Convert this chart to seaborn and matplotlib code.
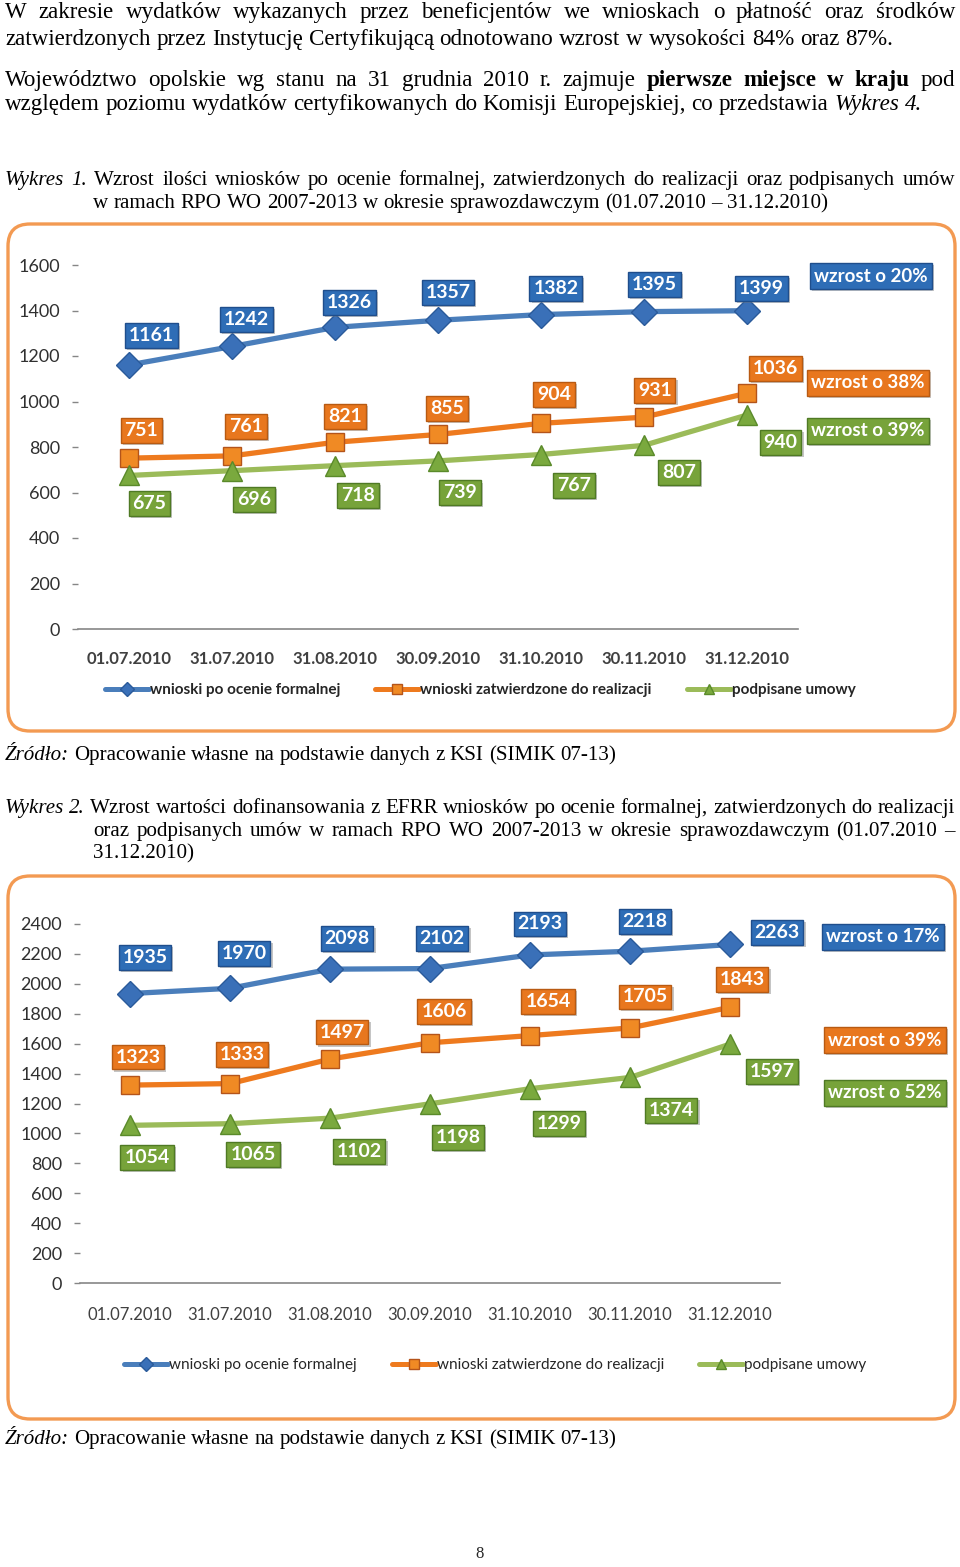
import matplotlib
matplotlib.use("Agg")
import matplotlib.pyplot as plt
import matplotlib.patheffects as pe
from matplotlib.lines import Line2D
from matplotlib.patches import FancyBboxPatch
import seaborn as sns

sns.set_style("white")
plt.rcParams["font.family"] = ["Lato", "DejaVu Sans"]

W, H = 960, 1567

# ---- dane ----
dates = ["01.07.2010", "31.07.2010", "31.08.2010", "30.09.2010",
         "31.10.2010", "30.11.2010", "31.12.2010"]
series_names = ["wnioski po ocenie formalnej",
                "wnioski zatwierdzone do realizacji",
                "podpisane umowy"]

w1_ocena = [1161, 1242, 1326, 1357, 1382, 1395, 1399]
w1_zatw = [751, 761, 821, 855, 904, 931, 1036]
w1_umowy = [675, 696, 718, 739, 767, 807, 940]
w1_wzrost = ["wzrost o 20%", "wzrost o 38%", "wzrost o 39%"]

w2_ocena = [1935, 1970, 2098, 2102, 2193, 2218, 2263]
w2_zatw = [1323, 1333, 1497, 1606, 1654, 1705, 1843]
w2_umowy = [1054, 1065, 1102, 1198, 1299, 1374, 1597]
w2_wzrost = ["wzrost o 17%", "wzrost o 39%", "wzrost o 52%"]

# ---- styl ----
LINE_COLORS = ["#4A7EBB", "#EE7A1E", "#9BBB59"]
MARK_FACE = ["#3A70B8", "#F08A24", "#7AA93E"]
MARK_EDGE = ["#2A5A9A", "#B4541A", "#5A8A2A"]
MARKERS = ["D", "s", "^"]
MSIZE = [13, 13, 14]
BOX_FACE = ["#2E6DB6", "#E8771E", "#77A33A"]
BOX_EDGE = ["#1F4E8C", "#B85A12", "#4F7A24"]
TEXT_DARK = "#404040"
FRAME = "#F39A52"
SERIF = "Liberation Serif"

# przesunięcia etykiet (px, w dół dodatnie)
w1_offsets = [
    [(22, -29), (14, -27), (14, -25), (10, -28), (15, -26), (11, -27), (15, -22)],
    [(12, -28), (14, -29), (10, -26), (9, -26), (13, -29), (11, -27), (29, -25)],
    [(20, 28), (22, 29), (23, 30), (22, 32), (33, 31), (35, 27), (34, 27)],
]
w2_offsets = [
    [(15, -36), (14, -35), (17, -31), (12, -30), (10, -31), (15, -30), (47, -12)],
    [(8, -28), (12, -29), (12, -27), (14, -31), (18, -34), (15, -31), (12, -28)],
    [(17, 32), (23, 31), (29, 33), (28, 34), (29, 35), (41, 33), (42, 27)],
]

fig = plt.figure(figsize=(W / 100, H / 100), dpi=100)
renderer = fig.canvas.get_renderer()


def fx(x):
    return x / W


def fy(y):
    return 1 - y / H


def fit_size(text, width):
    # rozmiar czcionki, przy którym tekst ma zadaną szerokość (w px)
    t = fig.text(0, 0, text, fontsize=10, family=SERIF)
    w = t.get_window_extent(renderer).width
    t.remove()
    return 10 * width / w


def put_line(y, x0, x1, parts, size):
    words = []
    for txt, st in parts:
        for w in txt.split(" "):
            if w:
                words.append((w, st))
    arts = []
    for w, st in words:
        t = fig.text(0, fy(y), w, fontsize=size, family=SERIF,
                     fontweight="bold" if st == "b" else "normal",
                     style="italic" if st == "i" else "normal",
                     va="baseline", ha="left", color="black")
        arts.append(t)
    widths = [a.get_window_extent(renderer).width for a in arts]
    gap = (x1 - x0 - sum(widths)) / max(len(arts) - 1, 1)
    x = x0
    for a, wd in zip(arts, widths):
        a.set_x(fx(x))
        x += wd + gap


def frame(x0, y0, x1, y1):
    box = FancyBboxPatch((x0 / 100, (H - y1) / 100), (x1 - x0) / 100, (y1 - y0) / 100,
                         boxstyle="round,pad=0,rounding_size=0.22",
                         transform=fig.dpi_scale_trans, facecolor="none",
                         edgecolor=FRAME, linewidth=2.4, zorder=-1)
    fig.patches.append(box)


def value_box(ax, x, y, text, i, off):
    ann = ax.annotate(str(text), xy=(x, y), xytext=(off[0] * 0.72, -off[1] * 0.72),
                      textcoords="offset points", ha="center", va="center",
                      fontsize=14, fontweight="bold", color="white",
                      annotation_clip=False, zorder=6,
                      bbox=dict(boxstyle="square,pad=0.2", facecolor=BOX_FACE[i],
                                edgecolor=BOX_EDGE[i], linewidth=1.0))
    ann.get_bbox_patch().set_path_effects([
        pe.SimplePatchShadow(offset=(1.5, -1.5), shadow_rgbFace="#808080", alpha=0.45),
        pe.Normal()])


def wzrost_box(x, y, text, i):
    t = fig.text(fx(x), fy(y), text, ha="center", va="center", fontsize=13.5,
                 fontweight="bold", color="white", zorder=6,
                 bbox=dict(boxstyle="square,pad=0.22", facecolor=BOX_FACE[i],
                           edgecolor=BOX_EDGE[i], linewidth=1.0))
    t.get_bbox_patch().set_path_effects([
        pe.SimplePatchShadow(offset=(1.5, -1.5), shadow_rgbFace="#808080", alpha=0.45),
        pe.Normal()])


def chart(rect, values, offsets, ymax, bold_x, label_pad):
    left, top, right, bottom = rect
    ax = fig.add_axes([fx(left), fy(bottom), (right - left) / W, (bottom - top) / H])
    for i, vals in enumerate(values):
        sns.lineplot(x=dates, y=vals, ax=ax, color=LINE_COLORS[i], linewidth=3.8,
                     marker=MARKERS[i], markersize=MSIZE[i],
                     markerfacecolor=MARK_FACE[i], markeredgecolor=MARK_EDGE[i],
                     markeredgewidth=1.0, sort=False, zorder=3)
        for k, v in enumerate(vals):
            value_box(ax, k, v, v, i, offsets[i][k])
    ax.set_xlim(-0.5, len(dates) - 0.5)
    ax.set_ylim(0, ymax)
    ax.set_yticks(range(0, ymax + 1, 200))
    ax.set_xticks(range(len(dates)))
    ax.set_xticklabels(dates, fontsize=12, color=TEXT_DARK,
                       fontweight="bold" if bold_x else "normal")
    ax.set_xticks([k - 0.5 for k in range(len(dates) + 1)], minor=True)
    ax.tick_params(axis="x", which="major", length=0, pad=label_pad)
    ax.tick_params(axis="x", which="minor", length=6, width=1, color="#868686",
                   direction="out")
    ax.tick_params(axis="y", length=4, width=1, color="#868686", pad=9,
                   labelsize=13, labelcolor="#303030", left=True)
    for s in ["top", "right", "left"]:
        ax.spines[s].set_visible(False)
    ax.spines["bottom"].set_color("#868686")
    ax.spines["bottom"].set_linewidth(1.2)
    ax.set_xlabel("")
    ax.set_ylabel("")
    ax.set_facecolor("none")
    ax.grid(False)
    return ax


def legend(cx, cy, bold):
    handles = [Line2D([], [], color=LINE_COLORS[i], linewidth=3.6, marker=MARKERS[i],
                      markersize=7, markerfacecolor=MARK_FACE[i],
                      markeredgecolor=MARK_EDGE[i]) for i in range(3)]
    fig.legend(handles, series_names, loc="center", bbox_to_anchor=(fx(cx), fy(cy)),
               ncol=3, frameon=False, handlelength=2.9, handletextpad=0.05,
               columnspacing=2.3,
               prop=dict(family=["Lato", "DejaVu Sans"], size=11,
                         weight="bold" if bold else "normal"))


# ---- tekst strony ----
body_line2 = "zatwierdzonych przez Instytucję Certyfikującą odnotowano wzrost w wysokości 84% oraz 87%."
cap1_line2 = "w ramach RPO WO 2007-2013 w okresie sprawozdawczym (01.07.2010 – 31.12.2010)"
BODY = fit_size(body_line2, 888)
CAP = fit_size(cap1_line2, 735)

put_line(18, 5, 955, [("W zakresie wydatków wykazanych przez beneficjentów we wnioskach o płatność oraz środków", "n")], BODY)
put_line(45, 5, 893, [(body_line2, "n")], BODY)
put_line(86, 5, 955, [("Województwo opolskie wg stanu na 31 grudnia 2010 r. zajmuje", "n"),
                      ("pierwsze miejsce w kraju", "b"), ("pod", "n")], BODY)
put_line(110, 5, 922, [("względem poziomu wydatków certyfikowanych do Komisji Europejskiej, co przedstawia", "n"),
                       ("Wykres 4.", "i")], BODY)

put_line(185, 5, 955, [("Wykres 1.", "i"),
                       ("Wzrost ilości wniosków po ocenie formalnej, zatwierdzonych do realizacji oraz podpisanych umów", "n")], CAP)
put_line(208, 93, 828, [(cap1_line2, "n")], CAP)

put_line(760, 5, 616, [("Źródło:", "i"), ("Opracowanie własne na podstawie danych z KSI (SIMIK 07-13)", "n")], CAP)

put_line(813, 5, 955, [("Wykres 2.", "i"),
                       ("Wzrost wartości dofinansowania z EFRR wniosków po ocenie formalnej, zatwierdzonych do realizacji", "n")], CAP)
put_line(836, 93, 955, [("oraz podpisanych umów w ramach RPO WO 2007-2013 w okresie sprawozdawczym (01.07.2010 –", "n")], CAP)
put_line(858, 93, 193, [("31.12.2010)", "n")], CAP)

put_line(1444, 5, 616, [("Źródło:", "i"), ("Opracowanie własne na podstawie danych z KSI (SIMIK 07-13)", "n")], CAP)

fig.text(fx(480), fy(1558), "8", ha="center", va="baseline", fontsize=12,
         family=SERIF)

# ---- Wykres 1 ----
frame(8, 224, 955, 731)
chart((78, 265, 798, 629), [w1_ocena, w1_zatw, w1_umowy], w1_offsets, 1600, True, 16)
for i, (y, x) in enumerate([(276, 871), (383, 868), (431, 868)]):
    wzrost_box(x, y, w1_wzrost[i], i)
legend(480, 690, True)

# ---- Wykres 2 ----
frame(8, 876, 955, 1419)
chart((80, 924, 780, 1283), [w2_ocena, w2_zatw, w2_umowy], w2_offsets, 2400, False, 17)
for i, (y, x) in enumerate([(937, 883), (1040, 885), (1093, 885)]):
    wzrost_box(x, y, w2_wzrost[i], i)
legend(495, 1365, False)

fig.savefig("out.png", dpi=100)
